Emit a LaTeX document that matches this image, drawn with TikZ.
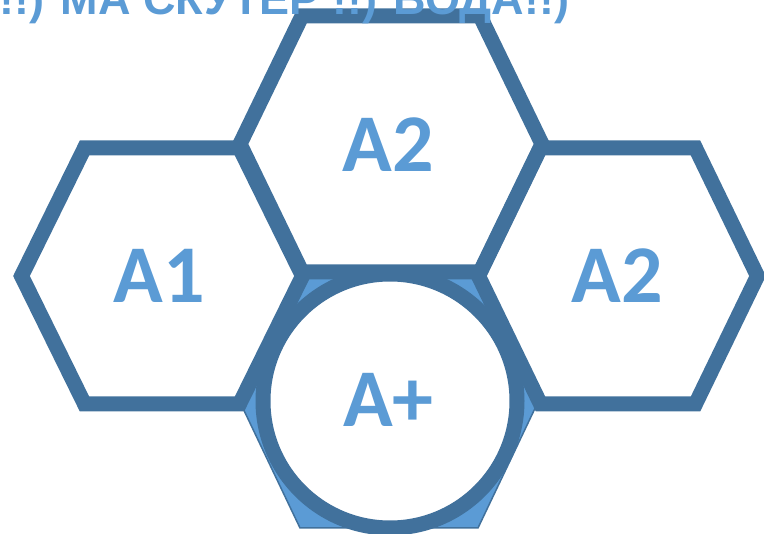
\documentclass[tikz,border=0pt]{standalone}
\usepackage{fontspec}
\setmainfont{Carlito}
\newfontfamily\bannerfont{Liberation Sans}
\definecolor{hexdark}{HTML}{41719C}
\definecolor{hexlight}{HTML}{5B9BD5}
\def\HexH{128}
\def\RingR{127}

\begin{document}
\begin{tikzpicture}[
  x=1pt, y=-1pt, line join=miter,
  cell/.style ={draw=hexdark, line width=15pt},
  core/.style ={fill=hexlight, draw=hexdark, line width=1.5pt},
  ring/.style ={draw=hexdark, fill=white, line width=15pt},
  cellname/.style={hexlight, inner sep=0pt, font=\fontsize{82}{82}\selectfont\bfseries},
  banner/.style={hexlight, inner sep=0pt, anchor=base west,
    font=\bannerfont\fontsize{45}{45}\selectfont\bfseries}
]
\useasboundingbox (0,0) rectangle (764,534);

% --- Centre cell, filled, under the others ------------------------------
\def\cx{389}\def\cy{400}\def\w{150}\def\a{61}
\draw[core] ({\cx-\w},\cy) -- ({\cx-\w+\a},{\cy-\HexH}) -- ({\cx+\w-\a},{\cy-\HexH})
  -- ({\cx+\w},\cy) -- ({\cx+\w-\a},{\cy+\HexH}) -- ({\cx-\w+\a},{\cy+\HexH}) -- cycle;

% --- Outlined cells: left, right, top ---------------------------------
\foreach \cx/\cy/\w/\a in {162/276/140.5/63, 618/276/139.5/62, 391/144/151/62}
  \draw[cell] ({\cx-\w},\cy) -- ({\cx-\w+\a},{\cy-\HexH}) -- ({\cx+\w-\a},{\cy-\HexH})
    -- ({\cx+\w},\cy) -- ({\cx+\w-\a},{\cy+\HexH}) -- ({\cx-\w+\a},{\cy+\HexH}) -- cycle;

% --- Ring on the centre cell -------------------------------------------
\draw[ring] (390,401) circle[radius=\RingR];

% --- Labels ------------------------------------------------------------
\node[cellname] (left)   at (159,276)   {A1};
\node[cellname] (top)    at (388.5,145) {A2};
\node[cellname] (right)  at (617.5,276) {A2};
\node[cellname] (centre) at (388.5,400) {A+};

\node[banner] (title) at (-1,15) {!!) МА СКУТЕР !!) ВОДА!!)};

\end{tikzpicture}
\end{document}
